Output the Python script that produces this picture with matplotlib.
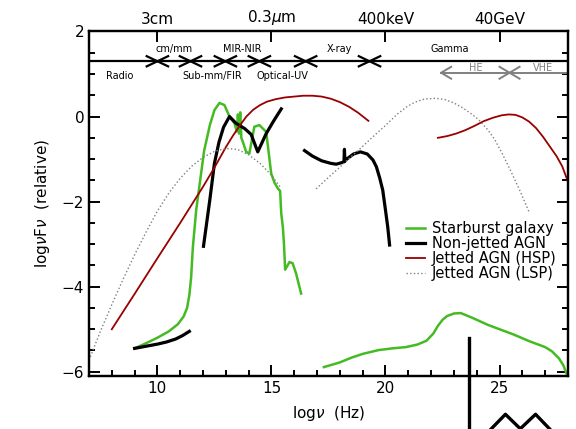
import numpy as np
import matplotlib
matplotlib.use('Agg')
import matplotlib.pyplot as plt

# Starburst galaxy (radio-optical, gamma)
sb_x1 = [9.0, 9.5, 10.0, 10.5, 10.9, 11.15, 11.3, 11.4, 11.48, 11.55, 11.7, 11.85, 12.05, 12.3, 12.5,
         12.72, 12.94, 13.16, 13.38, 13.48, 13.53, 13.58, 13.63, 13.68, 13.75, 13.89, 14.03, 14.25,
         14.47, 14.77, 14.99, 15.13, 15.28, 15.38, 15.43, 15.5, 15.55, 15.6, 15.79, 15.93, 16.08, 16.3]
sb_y1 = [-5.45, -5.33, -5.2, -5.05, -4.88, -4.7, -4.5, -4.2, -3.77, -3.1, -2.2, -1.6, -0.8, -0.2, 0.15,
         0.32, 0.27, 0.0, -0.16, -0.35, 0.05, -0.4, 0.1, -0.5, -0.6, -0.83, -0.87, -0.24,
         -0.2, -0.36, -1.34, -1.55, -1.69, -1.75, -2.28, -2.6, -3.0, -3.6, -3.42, -3.45, -3.69, -4.16]
sb_x2 = [17.3, 18.0, 18.5, 19.0, 19.7, 20.3, 20.9, 21.4, 21.8, 22.1, 22.3, 22.5, 22.7, 23.0, 23.3, 23.8,
         24.5, 25.0, 25.6, 26.3, 27.0, 27.3, 27.6, 27.8, 27.98]
sb_y2 = [-5.89, -5.78, -5.67, -5.58, -5.49, -5.45, -5.42, -5.36, -5.27, -5.1, -4.92, -4.78, -4.69, -4.63, -4.62, -4.73,
         -4.9, -5.0, -5.12, -5.28, -5.42, -5.52, -5.68, -5.85, -6.1]

# Non-jetted AGN (radio, IR-optical, X-ray)
nj_x1 = [9.0, 9.5, 10.0, 10.4, 10.8, 11.1, 11.4]
nj_y1 = [-5.45, -5.4, -5.35, -5.3, -5.23, -5.15, -5.05]
nj_x2 = [12.02, 12.3, 12.5, 12.7, 12.9, 13.16, 13.45, 13.82, 14.11, 14.4, 14.77, 15.1, 15.43]
nj_y2 = [-3.05, -1.95, -1.1, -0.6, -0.25, 0.0, -0.16, -0.28, -0.42, -0.83, -0.4, -0.1, 0.18]
nj_x3 = [16.45, 16.8, 17.2, 17.6, 17.84, 18.1, 18.18, 18.2, 18.22, 18.3, 18.6, 18.9, 19.2, 19.45,
         19.6, 19.75, 19.88, 20.0, 20.1, 20.18]
nj_y3 = [-0.8, -0.93, -1.04, -1.1, -1.12, -1.08, -1.06, -0.77, -1.05, -1.0, -0.88, -0.83, -0.88, -1.02,
         -1.18, -1.45, -1.73, -2.2, -2.6, -3.02]

# Jetted AGN HSP
hsp_x1 = [8.0, 9.0, 10.0, 11.0, 12.0, 12.5, 13.0, 13.3, 13.6, 13.9, 14.2, 14.5, 14.8, 15.2, 15.6, 16.0,
          16.4, 16.8, 17.2, 17.6, 18.0, 18.4, 18.8, 19.25]
hsp_y1 = [-5.0, -4.17, -3.33, -2.5, -1.65, -1.2, -0.72, -0.46, -0.22, 0.0, 0.16, 0.27, 0.35, 0.41, 0.45, 0.47,
          0.49, 0.49, 0.47, 0.42, 0.34, 0.23, 0.09, -0.1]
hsp_x2 = [22.3, 22.7, 23.1, 23.5, 23.9, 24.3, 24.7, 25.1, 25.4, 25.7, 26.0, 26.3, 26.6, 26.9, 27.2, 27.5, 27.75, 28.0]
hsp_y2 = [-0.5, -0.46, -0.4, -0.32, -0.22, -0.11, -0.03, 0.03, 0.05, 0.04, -0.02, -0.12, -0.27, -0.47, -0.7, -0.93,
          -1.17, -1.53]

# Jetted AGN LSP
lsp_x1 = [7.0, 7.5, 8.0, 8.5, 9.0, 9.5, 10.0, 10.5, 11.0, 11.5, 12.0, 12.5, 13.0, 13.5, 14.0, 14.5, 15.0, 15.43]
lsp_y1 = [-5.73, -5.05, -4.42, -3.82, -3.25, -2.72, -2.22, -1.8, -1.45, -1.17, -0.96, -0.82, -0.75, -0.77, -0.9,
          -1.1, -1.38, -1.69]
lsp_x2 = [16.96, 17.5, 18.0, 18.5, 19.0, 19.5, 20.0, 20.5, 20.96, 21.3, 21.7, 22.2, 22.6, 23.0, 23.4, 23.8,
          24.1, 24.5, 24.8, 25.1, 25.44, 25.9, 26.3]
lsp_y2 = [-1.7, -1.43, -1.19, -0.94, -0.7, -0.45, -0.21, 0.05, 0.24, 0.34, 0.41, 0.43, 0.4, 0.32, 0.2, 0.05,
          -0.08, -0.32, -0.55, -0.85, -1.22, -1.75, -2.25]

# band strip
band_y = 1.3
band_edges = [10.0, 11.45, 12.98, 14.47, 16.5, 19.3]
band_names = ['Radio', 'cm/mm', 'Sub-mm/FIR', 'MIR-NIR', 'Optical-UV', 'X-ray', 'Gamma']
band_pos = [8.35, 10.75, 12.4, 13.7, 15.5, 18.0, 22.8]
band_above = [False, True, False, True, False, True, True]

top_ticks = [10, 15, 20, 25]
top_labels = ['3cm', r'0.3$\mu$m', '400keV', '40GeV']

# stray marks below the axes
bar_x = [23.68, 23.68]
bar_y = [-5.21, -7.4]
zig_x = [24.64, 25.26, 25.91, 26.58, 27.19]
zig_y = [-7.34, -7.0, -7.34, -7.0, -7.34]

green = '#44bb22'
red = '#990000'

fig = plt.figure(figsize=(5.76, 4.29), dpi=100)
ax = fig.add_axes([0.1545, 0.1235, 0.8315, 0.8031])

ax.plot(sb_x1, sb_y1, color=green, lw=1.8, label='Starburst galaxy')
ax.plot(sb_x2, sb_y2, color=green, lw=1.8)
ax.plot(nj_x1, nj_y1, color='black', lw=2.3, label='Non-jetted AGN')
ax.plot(nj_x2, nj_y2, color='black', lw=2.3)
ax.plot(nj_x3, nj_y3, color='black', lw=2.3)
ax.plot(hsp_x1, hsp_y1, color=red, lw=1.3, label='Jetted AGN (HSP)')
ax.plot(hsp_x2, hsp_y2, color=red, lw=1.3)
ax.plot(lsp_x1, lsp_y1, color='gray', lw=1.0, ls=':', label='Jetted AGN (LSP)')
ax.plot(lsp_x2, lsp_y2, color='gray', lw=1.0, ls=':')

# band strip with crosses
ax.axhline(band_y, color='black', lw=1.6)
for e in band_edges:
    ax.plot([e - 0.47, e + 0.47], [band_y - 0.12, band_y + 0.12], color='black', lw=1.6)
    ax.plot([e - 0.47, e + 0.47], [band_y + 0.12, band_y - 0.12], color='black', lw=1.6)
for name, xp, up in zip(band_names, band_pos, band_above):
    ax.text(xp, band_y + 0.29 if up else band_y - 0.35, name, fontsize=7, ha='center', va='center')

# HE / VHE arrow
he_y = 1.03
ax.plot([22.44, 28], [he_y, he_y], color='gray', lw=1.4)
ax.plot([22.88, 22.44, 22.88], [he_y + 0.14, he_y, he_y - 0.14], color='gray', lw=1.4)
ax.plot([25.0, 25.88], [he_y - 0.14, he_y + 0.14], color='gray', lw=1.4)
ax.plot([25.0, 25.88], [he_y + 0.14, he_y - 0.14], color='gray', lw=1.4)
ax.text(23.95, he_y + 0.12, 'HE', fontsize=7, color='gray', ha='center', va='center')
ax.text(26.9, he_y + 0.12, 'VHE', fontsize=7, color='gray', ha='center', va='center')

ax.plot(bar_x, bar_y, color='black', lw=2.4, clip_on=False)
ax.plot(zig_x, zig_y, color='black', lw=2.4, clip_on=False)

ax.set_xlim(7, 28)
ax.set_ylim(-6.1, 2)
ax.set_xticks([10, 15, 20, 25])
ax.set_xticks(range(8, 28), minor=True)
ax.set_yticks([-6, -4, -2, 0, 2])
ax.set_yticks(np.arange(-6, 2.01, 0.5), minor=True)
ax.tick_params(which='both', direction='in', right=True, width=1.4, labelsize=11)
ax.tick_params(which='major', length=8)
ax.tick_params(which='minor', length=4)
for s in ax.spines.values():
    s.set_linewidth(1.6)
ax.set_xlabel(r'log$\nu$  (Hz)', fontsize=11, labelpad=6)
ax.set_ylabel(r'log$\nu$F$\nu$  (relative)', fontsize=11, labelpad=7)

top = ax.twiny()
top.set_xlim(ax.get_xlim())
top.set_xticks(top_ticks)
top.set_xticklabels(top_labels)
top.tick_params(direction='in', length=8, width=1.4, labelsize=11, pad=3)
for s in top.spines.values():
    s.set_linewidth(1.6)

ax.legend(loc='upper left', bbox_to_anchor=(0.64, 0.48), frameon=False, fontsize=10.5,
          handlelength=1.3, handletextpad=0.5, labelspacing=0.0, borderpad=0.2)

fig.savefig('out.png', dpi=100)
